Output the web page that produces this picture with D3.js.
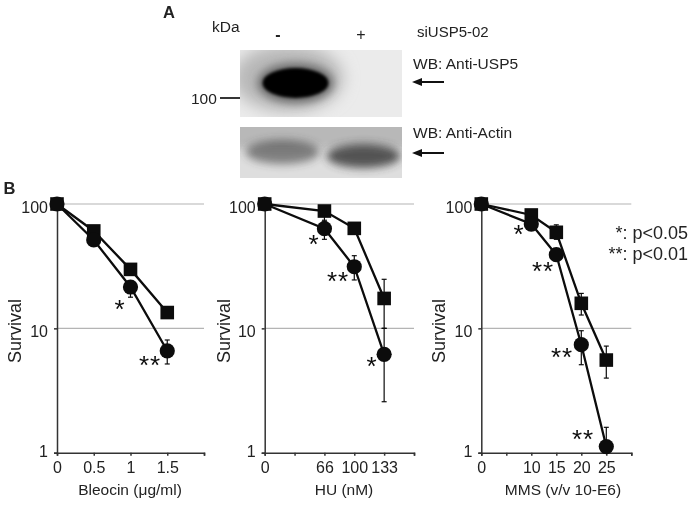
<!DOCTYPE html>
<html>
<head>
<meta charset="utf-8">
<script src="https://cdn.jsdelivr.net/npm/d3@7"></script>
<style>
html, body { margin: 0; padding: 0; background: #fff; }
svg { display: block; filter: blur(0.4px); }
text { font-family: "Liberation Sans", Arial, sans-serif; fill: #222; }
</style>
</head>
<body>
<svg id="fig" width="693" height="506"></svg>
<script>
// survival curves. ctrl = squares, kd = circles
let bleoLabels = ["0", "0.5", "1", "1.5", ""];
let bleoCtrl = [100, 60.7, 29.8, 13.4];
let bleoKd = [100, 51.4, 21.5, 6.6];
let bleoCtrlHi = [100, 63, 31, 14];
let bleoCtrlLo = [100, 58, 28.5, 12.8];
let bleoKdHi = [100, 54, 24, 8.06];
let bleoKdLo = [100, 49, 17.8, 5.17];

let huLabels = ["0", "", "66", "100", "133", ""];
let huCtrl = [100, null, 87.8, 63.7, 17.4];
let huKd = [100, null, 63.3, 31.3, 6.18];
let huCtrlHi = [100, null, 96, 68, 24.8];
let huCtrlLo = [100, null, 72, 60, 10];
let huKdHi = [100, null, 74, 38.4, 10];
let huKdLo = [100, null, 52, 24.5, 2.57];

let mmsLabels = ["0", "", "10", "15", "20", "25", ""];
let mmsCtrl = [100, null, 81.6, 59.2, 15.9, 5.56];
let mmsKd = [100, null, 69, 39.1, 7.39, 1.12];
let mmsCtrlHi = [100, null, 88, 68, 19.1, 7.2];
let mmsCtrlLo = [100, null, 75, 52, 12.8, 3.98];
let mmsKdHi = [100, null, 75, 43, 9.57, 1.6];
let mmsKdLo = [100, null, 62, 35, 5.1, 1];

let yTicks = [1, 10, 100];

// significance marks
let bleoStars = ["*", "**"];
let huStars = ["*", "**", "*"];
let mmsStars = ["*", "**", "**", "**"];

// western blot
let lanes = ["-", "+"];
let uspBands = [1, 0];
let actinBands = [0.55, 0.8];

let svg = d3.select("#fig");
let defs = svg.append("defs");
[[1.5, "b1"], [2.5, "b2"], [4, "b4"], [8, "b8"]].forEach(function (f) {
    defs.append("filter").attr("id", f[1])
        .attr("x", "-50%").attr("y", "-80%").attr("width", "200%").attr("height", "260%")
        .append("feGaussianBlur").attr("stdDeviation", f[0]);
});

let inkColour = "#0c0c0c";
let yScale = d3.scaleLog().domain([1, 100]).range([452.7, 204]);

drawBlot();
drawPanel({ left: 57, right: 204, labels: bleoLabels, ctrl: bleoCtrl, kd: bleoKd,
    ctrlHi: bleoCtrlHi, ctrlLo: bleoCtrlLo, kdHi: bleoKdHi, kdLo: bleoKdLo,
    stars: bleoStars, starAt: [[120, 307], [150, 363]],
    title: "Bleocin (\u03BCg/ml)", titleX: 130, ylabelX: 21 });
drawPanel({ left: 264.7, right: 414, labels: huLabels, ctrl: huCtrl, kd: huKd,
    ctrlHi: huCtrlHi, ctrlLo: huCtrlLo, kdHi: huKdHi, kdLo: huKdLo,
    stars: huStars, starAt: [[314, 242], [338, 279], [372, 364]],
    title: "HU (nM)", titleX: 344, ylabelX: 230 });
drawPanel({ left: 481.3, right: 631.3, labels: mmsLabels, ctrl: mmsCtrl, kd: mmsKd,
    ctrlHi: mmsCtrlHi, ctrlLo: mmsCtrlLo, kdHi: mmsKdHi, kdLo: mmsKdLo,
    stars: mmsStars, starAt: [[519, 232], [543, 269], [562, 355], [583, 437]],
    title: "MMS (v/v 10-E6)", titleX: 563, ylabelX: 445 });

// p value key
svg.append("text").attr("x", 688).attr("y", 239).attr("text-anchor", "end")
    .style("font-size", "18px").text("*: p<0.05");
svg.append("text").attr("x", 688).attr("y", 260).attr("text-anchor", "end")
    .style("font-size", "18px").text("**: p<0.01");

svg.append("text").attr("x", 3.5).attr("y", 194).style("font-size", "16.5px").style("font-weight", "bold").text("B");
svg.append("text").attr("x", 163).attr("y", 18).style("font-size", "16.5px").style("font-weight", "bold").text("A");

/**
 * One survival panel with log y axis and categorical x axis
 */
function drawPanel(p) {
    let x = d3.scalePoint().domain(d3.range(p.labels.length)).range([p.left, p.right]);
    let g = svg.append("g");

    // gridlines
    g.selectAll("line.grid").data(yTicks.slice(1)).enter().append("line")
        .attr("x1", p.left).attr("x2", p.right)
        .attr("y1", d => yScale(d)).attr("y2", d => yScale(d))
        .style("stroke", "#b4b4b4").style("stroke-width", 1.2);

    let yAxis = d3.axisLeft(yScale).tickValues(yTicks).tickFormat(d3.format("d")).tickSize(3).tickPadding(6);
    let ya = g.append("g").attr("transform", "translate(" + p.left + ",0)").call(yAxis);
    let xAxis = d3.axisBottom(x).tickFormat(i => p.labels[i]).tickSize(3).tickPadding(6);
    let xa = g.append("g").attr("transform", "translate(0," + yScale(1) + ")").call(xAxis);
    [ya, xa].forEach(function (a) {
        a.selectAll("path, line").style("stroke", "#333").style("stroke-width", 1.5);
        a.selectAll("text").style("font-size", "16px").style("font-family", '"Liberation Sans", Arial, sans-serif').style("fill", "#222");
    });
    // the labels sit a little off their ticks in the original
    ya.selectAll("text").attr("dy", d => d === 1 ? "0.26em" : "0.5em");

    g.append("text").attr("x", p.titleX).attr("y", 495).attr("text-anchor", "middle")
        .style("font-size", "15.5px").text(p.title);
    g.append("text").attr("transform", "translate(" + p.ylabelX + ",331) rotate(-90)")
        .attr("text-anchor", "middle").style("font-size", "18px").text("Survival");

    let idx = d3.range(p.ctrl.length).filter(i => p.ctrl[i] !== null);
    let line = d3.line().x(i => x(i));

    // error bars
    [[p.ctrlHi, p.ctrlLo], [p.kdHi, p.kdLo]].forEach(function (pair) {
        idx.forEach(function (i) {
            let e = g.append("g").style("stroke", inkColour).style("stroke-width", 1.2);
            e.append("line").attr("x1", x(i)).attr("x2", x(i)).attr("y1", yScale(pair[0][i])).attr("y2", yScale(pair[1][i]));
            e.append("line").attr("x1", x(i) - 2.5).attr("x2", x(i) + 2.5).attr("y1", yScale(pair[0][i])).attr("y2", yScale(pair[0][i]));
            e.append("line").attr("x1", x(i) - 2.5).attr("x2", x(i) + 2.5).attr("y1", yScale(pair[1][i])).attr("y2", yScale(pair[1][i]));
        });
    });

    // lines
    [p.ctrl, p.kd].forEach(function (vals) {
        g.append("path").attr("d", line.y(i => yScale(vals[i]))(idx))
            .style("fill", "none").style("stroke", inkColour).style("stroke-width", 2.3);
    });

    // markers
    g.selectAll("rect.pt").data(idx).enter().append("rect")
        .attr("x", i => x(i) - 6.8).attr("y", i => yScale(p.ctrl[i]) - 6.8)
        .attr("width", 13.6).attr("height", 13.6).style("fill", inkColour);
    g.selectAll("circle.pt").data(idx).enter().append("circle")
        .attr("cx", i => x(i)).attr("cy", i => yScale(p.kd[i])).attr("r", 7.6)
        .style("fill", inkColour);

    // stars, glyph centre sits high in the em box so push baseline down
    p.stars.forEach(function (s, n) {
        g.append("text").attr("x", p.starAt[n][0]).attr("y", p.starAt[n][1] + 11)
            .attr("text-anchor", "middle").style("font-size", "26px").style("letter-spacing", "1px")
            .style("fill", inkColour).text(s);
    });
}

/**
 * Panel A, two blurred gel strips with lane labels and arrows
 */
function drawBlot() {
    let laneX = d3.scaleBand().domain(lanes).range([240, 402]);
    let g = svg.append("g");

    function txt(x, y, s, size) {
        g.append("text").attr("x", x).attr("y", y).style("font-size", size).text(s);
    }
    txt(212, 32, "kDa", "15.5px");
    lanes.forEach(function (l, i) {
        g.append("text").attr("x", i === 0 ? 278 : 361).attr("y", 40).attr("text-anchor", "middle")
            .style("font-size", "16px").style("font-weight", i === 0 ? "bold" : "normal").text(l);
    });
    txt(417, 37, "siUSP5-02", "15px");
    txt(413, 69, "WB: Anti-USP5", "15.5px");
    txt(413, 138, "WB: Anti-Actin", "15.5px");
    txt(191, 104, "100", "15.5px");
    g.append("line").attr("x1", 220).attr("x2", 240).attr("y1", 98).attr("y2", 98)
        .style("stroke", "#111").style("stroke-width", 1.7);

    [82, 153].forEach(function (ay) {
        g.append("line").attr("x1", 418).attr("x2", 444).attr("y1", ay).attr("y2", ay)
            .style("stroke", "#111").style("stroke-width", 2);
        g.append("path").attr("d", d3.line()([[412, ay], [422, ay - 4], [422, ay + 4]])).style("fill", "#111");
    });

    defs.append("clipPath").attr("id", "clipUsp").append("rect").attr("x", 240).attr("y", 50).attr("width", 162).attr("height", 67);
    defs.append("clipPath").attr("id", "clipActin").append("rect").attr("x", 240).attr("y", 127).attr("width", 162).attr("height", 51);

    // top strip
    let top = g.append("g").attr("clip-path", "url(#clipUsp)");
    top.append("rect").attr("x", 240).attr("y", 50).attr("width", 162).attr("height", 67).style("fill", "#ebebeb");
    top.append("ellipse").attr("cx", 288).attr("cy", 78).attr("rx", 55).attr("ry", 34)
        .attr("filter", "url(#b8)").style("fill", "#b8b8b8");
    uspBands.forEach(function (v, i) {
        let cx = laneX(lanes[i]) + laneX.bandwidth() / 2 + 15;
        top.append("ellipse").attr("cx", cx).attr("cy", 83).attr("rx", 38).attr("ry", 20)
            .attr("filter", "url(#b4)").style("fill", "#6a6a6a").style("opacity", v);
        top.append("ellipse").attr("cx", cx).attr("cy", 83).attr("rx", 33).attr("ry", 15)
            .attr("filter", "url(#b1)").style("fill", "#000").style("opacity", v);
    });

    // bottom strip
    let bot = g.append("g").attr("clip-path", "url(#clipActin)");
    bot.append("rect").attr("x", 240).attr("y", 127).attr("width", 162).attr("height", 51).style("fill", "#dedede");
    bot.append("rect").attr("x", 230).attr("y", 118).attr("width", 182).attr("height", 30).attr("filter", "url(#b4)").style("fill", "#b8b8b8");
    actinBands.forEach(function (v, i) {
        let cx = laneX(lanes[i]) + laneX.bandwidth() / 2 + 2;
        let cy = 152 + i * 4;
        bot.append("ellipse").attr("cx", cx).attr("cy", cy).attr("rx", 37).attr("ry", 12)
            .attr("filter", "url(#b4)").style("fill", "#333").style("opacity", v);
    });
}
</script>
</body>
</html>
